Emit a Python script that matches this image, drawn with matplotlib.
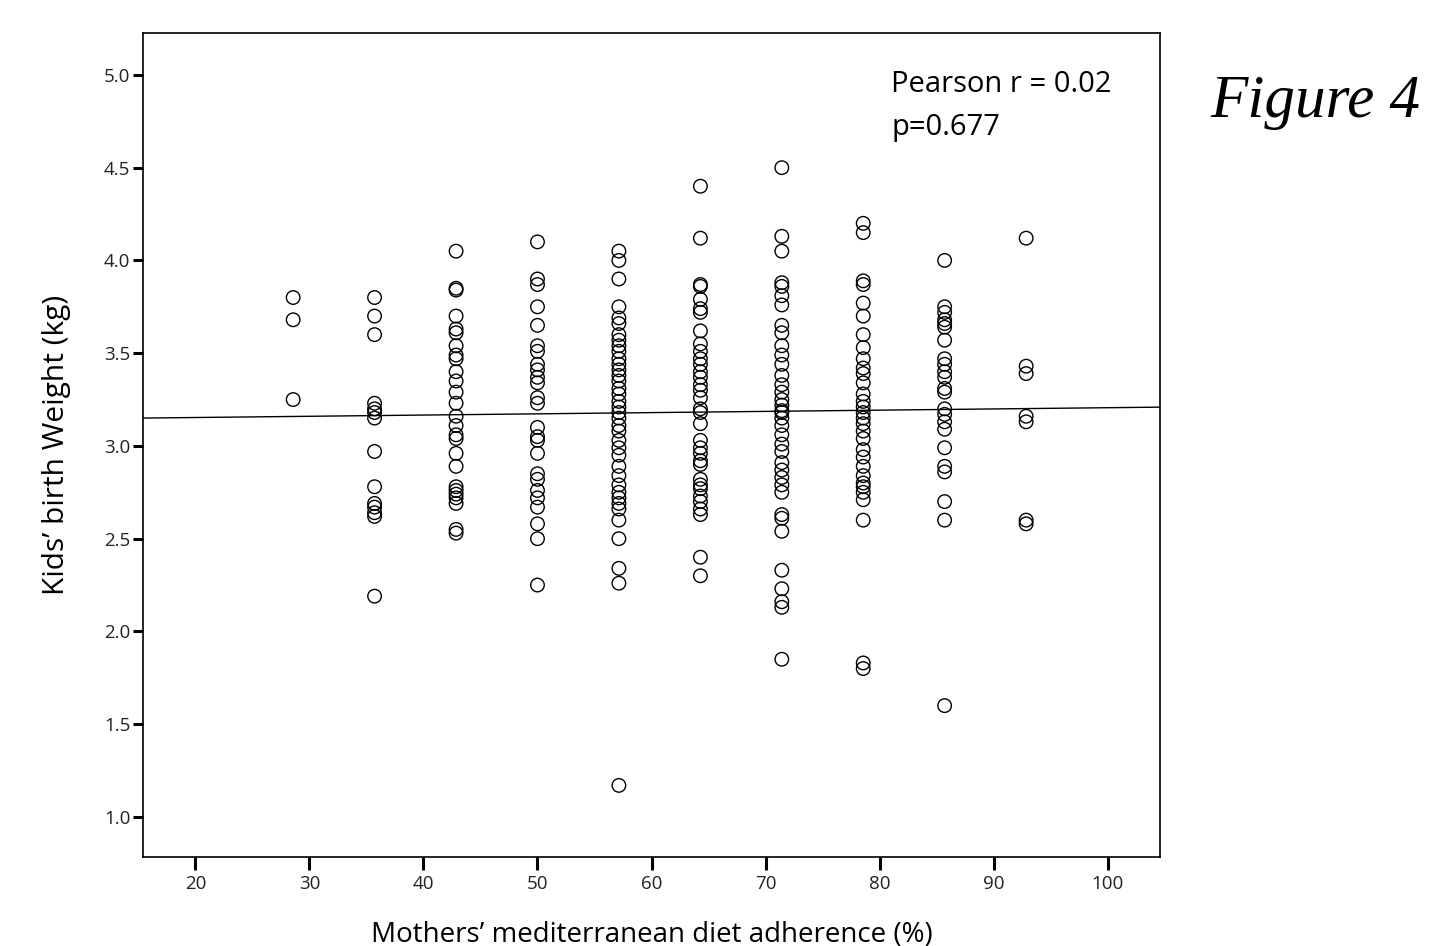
import matplotlib
matplotlib.use("Agg")
import matplotlib.pyplot as plt
import numpy as np

# Diet adherence levels (%) and birth weights (kg) for each level
adherence_levels = [28.57, 35.71, 42.86, 50.0, 57.14, 64.29, 71.43, 78.57, 85.71, 92.86]

w_2857 = [3.80, 3.68, 3.25]
w_3571 = [3.80, 3.70, 3.60, 3.23, 3.20, 3.18, 3.15, 2.97, 2.78, 2.69, 2.67, 2.64, 2.62, 2.19]
w_4286 = [4.05, 3.85, 3.84, 3.70, 3.63, 3.61, 3.54, 3.49, 3.47, 3.40, 3.35, 3.29, 3.23,
          3.16, 3.11, 3.06, 3.04, 2.96, 2.89, 2.78, 2.76, 2.74, 2.72, 2.69, 2.55, 2.53]
w_5000 = [4.10, 3.90, 3.87, 3.75, 3.65, 3.54, 3.51, 3.44, 3.41, 3.37, 3.34, 3.26, 3.23,
          3.10, 3.05, 3.03, 2.96, 2.85, 2.82, 2.76, 2.72, 2.67, 2.58, 2.50, 2.25]
w_5714 = [4.05, 4.00, 3.90, 3.75, 3.69, 3.66, 3.60, 3.57, 3.54, 3.51, 3.47, 3.44, 3.41,
          3.38, 3.35, 3.31, 3.28, 3.24, 3.21, 3.18, 3.15, 3.11, 3.08, 3.03, 2.99, 2.95,
          2.89, 2.84, 2.79, 2.75, 2.72, 2.69, 2.66, 2.60, 2.50, 2.34, 2.26, 1.17]
w_6429 = [4.40, 4.12, 3.87, 3.86, 3.79, 3.74, 3.72, 3.62, 3.55, 3.51, 3.47, 3.44, 3.40,
          3.37, 3.33, 3.30, 3.26, 3.20, 3.18, 3.12, 3.03, 2.99, 2.96, 2.92, 2.90, 2.82,
          2.79, 2.77, 2.73, 2.70, 2.66, 2.63, 2.40, 2.30]
w_7143 = [4.50, 4.13, 4.05, 3.88, 3.86, 3.81, 3.76, 3.65, 3.61, 3.54, 3.49, 3.44, 3.38,
          3.33, 3.29, 3.25, 3.22, 3.19, 3.18, 3.15, 3.11, 3.06, 3.01, 2.97, 2.91, 2.87,
          2.83, 2.79, 2.75, 2.63, 2.61, 2.54, 2.33, 2.23, 2.16, 2.13, 1.85]
w_7857 = [4.20, 4.15, 3.89, 3.87, 3.77, 3.70, 3.60, 3.53, 3.47, 3.42, 3.39, 3.34, 3.28,
          3.24, 3.21, 3.18, 3.15, 3.12, 3.08, 3.04, 2.98, 2.94, 2.89, 2.84, 2.80, 2.78,
          2.75, 2.71, 2.60, 1.83, 1.80]
w_8571 = [4.00, 3.75, 3.72, 3.68, 3.66, 3.64, 3.57, 3.47, 3.44, 3.40, 3.37, 3.31, 3.29,
          3.20, 3.17, 3.13, 3.09, 2.99, 2.89, 2.86, 2.70, 2.60, 1.60]
w_9286 = [4.12, 3.43, 3.39, 3.16, 3.13, 2.60, 2.58]

weights_by_level = [w_2857, w_3571, w_4286, w_5000, w_5714, w_6429, w_7143, w_7857, w_8571, w_9286]

# Fitted regression line
fit_intercept = 3.14
fit_slope = 0.00066

x_ticks = [20, 30, 40, 50, 60, 70, 80, 90, 100]
y_ticks = [1.0, 1.5, 2.0, 2.5, 3.0, 3.5, 4.0, 4.5, 5.0]

plt.rcParams['font.family'] = ['Open Sans', 'DejaVu Sans']

fig = plt.figure(figsize=(14.52, 9.46), dpi=100)
ax = fig.add_axes([143/1452, 1 - 857/946, (1160 - 143)/1452, (857 - 33)/946])

xs = np.concatenate([[lvl] * len(w) for lvl, w in zip(adherence_levels, weights_by_level)])
ys = np.concatenate(weights_by_level)
ax.scatter(xs, ys, s=95, facecolors='none', edgecolors='black', linewidths=1.0, zorder=3)

ax.set_xlim(15.4, 104.6)
ax.set_ylim(0.784, 5.226)
xl = np.array(ax.get_xlim())
ax.plot(xl, fit_intercept + fit_slope * xl, color='black', linewidth=1.0, zorder=2)

ax.set_xticks(x_ticks)
ax.set_xticklabels([str(t) for t in x_ticks])
ax.set_yticks(y_ticks)
ax.set_yticklabels([f"{t:.1f}" for t in y_ticks])
ax.tick_params(axis='both', direction='out', length=7, width=2.2, labelsize=13.5,
               color='black', labelcolor='#222222')
ax.tick_params(axis='x', length=9, pad=4)
ax.tick_params(axis='y', pad=2)
for sp in ax.spines.values():
    sp.set_linewidth(1.2)

ax.set_ylabel("Kids’ birth Weight (kg)", fontsize=21.5, labelpad=24)
ax.set_xlabel("Mothers’ mediterranean diet adherence (%)", fontsize=20, labelpad=20)

ax.text(891/1452, 1 - 85/946, "Pearson r = 0.02", transform=fig.transFigure,
        fontsize=21, va='center', ha='left')
ax.text(891/1452, 1 - 127/946, "p=0.677", transform=fig.transFigure,
        fontsize=21, va='center', ha='left')

fig.text(1210/1452, 1 - 102/946, "Figure 4", family='Liberation Serif', style='italic',
         fontsize=44, va='center', ha='left')

fig.savefig("out.png", dpi=100)
